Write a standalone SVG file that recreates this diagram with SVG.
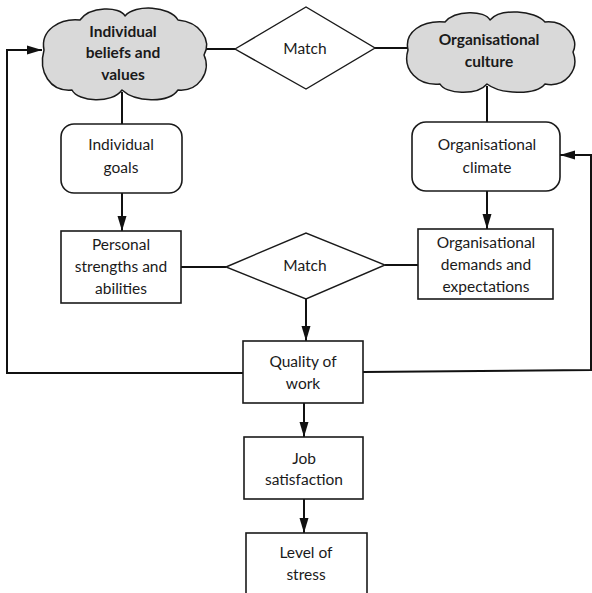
<svg xmlns="http://www.w3.org/2000/svg" width="592" height="593" viewBox="0 0 592 593">
  <style>
    .box { fill: #ffffff; stroke: #1a1a1a; stroke-width: 1.6; }
    .dia { fill: #ffffff; stroke: #1a1a1a; stroke-width: 1.4; }
    .cloud { fill: #d9d9d9; stroke: #1a1a1a; stroke-width: 1.5; stroke-linejoin: round; }
    .ln { fill: none; stroke: #111111; stroke-width: 2; }
    .t { font-family: Lato, "Open Sans", "Liberation Sans", sans-serif; font-size: 15.5px; fill: #1a1a1a; text-anchor: middle; }
    .tb { font-weight: bold; }
  </style>
  <defs>
    <marker id="arrow" markerUnits="userSpaceOnUse" markerWidth="15" markerHeight="10" refX="15" refY="5" orient="auto">
      <path d="M0,0.5 L15,5 L0,9.5 Z" fill="#111111"/>
    </marker>
  </defs>

  <rect width="592" height="593" fill="#ffffff"/>

  <!-- connectors -->
  <g id="connectors">
    <!-- feedback loops from quality of work -->
    <polyline class="ln" points="243,373 7,373 7,50 42,50" marker-end="url(#arrow)"/>
    <polyline class="ln" points="363,372 591,370 591,155 560,155" marker-end="url(#arrow)"/>
    <!-- top row -->
    <line class="ln" x1="206" y1="49" x2="235" y2="49"/>
    <line class="ln" x1="375" y1="48" x2="408" y2="48"/>
    <line class="ln" x1="122" y1="92" x2="122" y2="124"/>
    <line class="ln" x1="487" y1="86" x2="487" y2="122"/>
    <!-- goals and climate down -->
    <line class="ln" x1="122" y1="193" x2="122" y2="231" marker-end="url(#arrow)"/>
    <line class="ln" x1="487" y1="191" x2="487" y2="229" marker-end="url(#arrow)"/>
    <!-- second match -->
    <line class="ln" x1="181" y1="267" x2="226" y2="267"/>
    <line class="ln" x1="385" y1="265" x2="418" y2="265"/>
    <!-- vertical chain -->
    <line class="ln" x1="306" y1="299" x2="306" y2="341" marker-end="url(#arrow)"/>
    <line class="ln" x1="304" y1="403" x2="304" y2="437" marker-end="url(#arrow)"/>
    <line class="ln" x1="304" y1="499" x2="304" y2="533" marker-end="url(#arrow)"/>
  </g>

  <g id="beliefs">
    <path class="cloud" d="M44,50 C40,30 60,18 80,20 C90,6 120,6 125,16 C135,4 170,6 178,20 C200,22 212,40 204,55 C212,72 198,92 178,90 C168,104 135,102 122,90 C112,104 78,102 72,90 C50,92 38,72 44,50 Z"/>
    <text class="t tb" x="123" y="37">Individual</text>
    <text class="t tb" x="123" y="58">beliefs and</text>
    <text class="t tb" x="123" y="80">values</text>
  </g>

  <g id="match1">
    <polygon class="dia" points="235,49 306,7 375,48 306,89"/>
    <text class="t" x="305" y="54">Match</text>
  </g>

  <g id="culture">
    <path class="cloud" d="M408,50 C404,32 422,20 445,22 C455,10 485,10 490,20 C500,8 535,10 545,22 C565,20 580,38 573,52 C580,70 565,88 545,84 C535,96 500,94 487,84 C477,96 445,94 440,84 C418,86 402,70 408,50 Z"/>
    <text class="t tb" x="489" y="45">Organisational</text>
    <text class="t tb" x="489" y="67">culture</text>
  </g>

  <g id="goals">
    <rect class="box" x="61" y="124" width="121" height="69" rx="13"/>
    <text class="t" x="121" y="150">Individual</text>
    <text class="t" x="121" y="173">goals</text>
  </g>

  <g id="climate">
    <rect class="box" x="412" y="122" width="148" height="69" rx="14"/>
    <text class="t" x="487" y="150">Organisational</text>
    <text class="t" x="487" y="173">climate</text>
  </g>

  <g id="strengths">
    <rect class="box" x="61" y="231" width="120" height="72"/>
    <text class="t" x="121" y="250">Personal</text>
    <text class="t" x="121" y="272">strengths and</text>
    <text class="t" x="121" y="294">abilities</text>
  </g>

  <g id="match2">
    <polygon class="dia" points="226,267 306,233 385,265 306,299"/>
    <text class="t" x="305" y="271">Match</text>
  </g>

  <g id="demands">
    <rect class="box" x="418" y="229" width="135" height="70"/>
    <text class="t" x="486" y="248">Organisational</text>
    <text class="t" x="486" y="270">demands and</text>
    <text class="t" x="486" y="292">expectations</text>
  </g>

  <g id="quality">
    <rect class="box" x="243" y="341" width="120" height="62"/>
    <text class="t" x="303" y="367">Quality of</text>
    <text class="t" x="303" y="389">work</text>
  </g>

  <g id="satisfaction">
    <rect class="box" x="244" y="437" width="119" height="62"/>
    <text class="t" x="304" y="464">Job</text>
    <text class="t" x="304" y="485">satisfaction</text>
  </g>

  <g id="stress">
    <rect class="box" x="246" y="533" width="121" height="66"/>
    <text class="t" x="306" y="558">Level of</text>
    <text class="t" x="306" y="580">stress</text>
  </g>
</svg>
